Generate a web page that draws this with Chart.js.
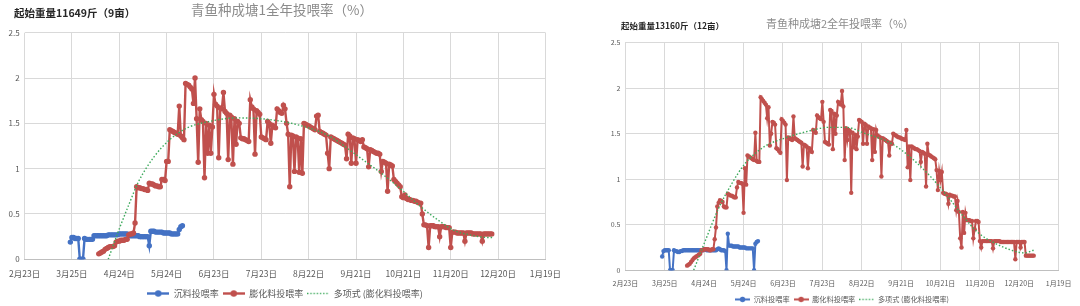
<!DOCTYPE html>
<html>
<head>
<meta charset="utf-8">
<script src="https://cdn.jsdelivr.net/npm/chart.js@4.4.1/dist/chart.umd.min.js"></script>
<style>
html, body { margin: 0; padding: 0; background: #fff; overflow: hidden; width: 1080px; height: 306px; }
canvas { position: absolute; top: 0; }
#pond1 { left: 0; }
#pond2 { left: 590px; }
</style>
</head>
<body>
<canvas id="pond1" width="570" height="308"></canvas>
<canvas id="pond2" width="490" height="313"></canvas>
<script>
// x axis = days after 2月23日, one tick every 30 days
const tickLabels = ['2月23日', '3月25日', '4月24日', '5月24日', '6月23日', '7月23日', '8月22日', '9月21日', '10月21日', '11月20日', '12月20日', '1月19日'];
const seriesNames = ['沉料投喂率', '膨化料投喂率', '多项式 (膨化料投喂率)'];

// pond 1
const pond1Title = '青鱼种成塘1全年投喂率（%）';
const pond1Note = '起始重量11649斤（9亩）';
const pond1SinkStart = 29;
const pond1Sink = [
  0.19, 0.24, 0.24, 0.23, 0.23, 0.23, 0, 0, 0, 0.23,
  0.22, 0.22, 0.22, 0.22, 0.22, 0.26, 0.26, 0.26, 0.26, 0.26,
  0.26, 0.26, 0.26, 0.26, 0.27, 0.27, 0.27, 0.27, 0.27, 0.27,
  0.27, 0.28, 0.28, 0.28, 0.28, 0.28, 0.28, 0.27, 0.26, 0.26,
  0.26, 0.26, 0.26, 0.26, 0.25, 0.25, 0.25, 0.25, 0.25, 0.25,
  0.15, 0.31, 0.31, 0.31, 0.30, 0.30, 0.30, 0.30, 0.30, 0.29,
  0.29, 0.29, 0.29, 0.29, 0.28, 0.28, 0.28, 0.28, 0.28, 0.33,
  0.36, 0.37
];
const pond1PuffStart = 47;
const pond1Puff = [
  0.06, 0.07, 0.08, 0.09, 0.11, 0.12, 0.13, 0.14, 0.14, 0.14,
  0.15, 0.19, 0.20, 0.20, 0.21, 0.21, 0.21, 0.22, 0.22, 0.27,
  0.28, 0.28, 0.29, 0.40, 0.80, 0.79, 0.79, 0.78, 0.78, 0.77,
  0.77, 0.76, 0.84, 0.83, 0.83, 0.82, 0.81, 0.81, 0.80, 0.80,
  0.88, 0.88, 0.87, 1.08, 1.08, 1.43, 1.42, 1.41, 1.40, 1.39,
  1.38, 1.69, 1.36, 1.34, 1.32, 1.94, 1.93, 1.92, 1.90, 1.88,
  1.72, 2.00, 1.55, 1.07, 1.66, 1.54, 1.52, 0.90, 1.50, 1.17,
  1.48, 1.17, 1.46, 1.82, 1.71, 1.69, 1.12, 1.67, 1.66, 1.84,
  1.63, 1.61, 1.10, 1.59, 1.57, 1.05, 1.55, 1.27, 1.52, 1.50,
  1.34, 1.33, 1.33, 1.32, 1.31, 1.30, 1.76, 1.68, 1.66, 1.16,
  1.64, 1.62, 1.60, 1.35, 1.34, 1.33, 1.32, 1.52, 1.50, 1.28,
  1.48, 1.46, 1.45, 1.66, 1.64, 1.62, 1.61, 1.70, 1.66, 1.50,
  1.38, 0.80, 1.37, 1.36, 0.97, 1.35, 1.34, 0.96, 1.33, 0.95,
  1.50, 1.49, 1.48, 1.47, 1.46, 1.45, 1.44, 1.43, 1.58, 1.59,
  1.41, 1.40, 1.39, 1.38, 1.37, 1.17, 1.00, 1.35, 1.34, 1.33,
  1.32, 1.31, 1.30, 1.29, 1.28, 1.27, 1.26, 1.11, 1.38, 1.36,
  1.06, 1.34, 1.33, 1.06, 1.32, 1.31, 1.30, 1.32, 1.24, 1.23,
  1.22, 1.02, 1.21, 1.20, 1.19, 1.18, 1.17, 1.17, 1.16, 0.97,
  1.08, 1.07, 1.06, 0.75, 1.05, 1.04, 1.03, 0.88, 0.86, 0.84,
  0.82, 0.80, 0.69, 0.68, 0.71, 0.67, 0.66, 0.66, 0.65, 0.65,
  0.64, 0.64, 0.63, 0.62, 0.62, 0.50, 0.38, 0.38, 0.37, 0.13,
  0.37, 0.37, 0.37, 0.36, 0.36, 0.36, 0.25, 0.36, 0.36, 0.36,
  0.35, 0.35, 0.35, 0.13, 0.30, 0.30, 0.30, 0.29, 0.29, 0.29,
  0.29, 0.29, 0.20, 0.29, 0.29, 0.29, 0.29, 0.28, 0.28, 0.28,
  0.28, 0.28, 0.28, 0.20, 0.28, 0.28, 0.28, 0.28, 0.28, 0.28
];
const pond1TrendDays = [53, 59, 66, 72, 82, 92, 103, 117, 134, 156, 176, 193, 208, 215, 226, 238, 251, 263, 272, 282, 294, 297];
const pond1Trend = [0, 0.29, 0.60, 0.85, 1.13, 1.32, 1.45, 1.52, 1.56, 1.54, 1.47, 1.36, 1.18, 1.09, 0.95, 0.78, 0.58, 0.42, 0.32, 0.27, 0.24, 0.24];

// pond 2
const pond2Title = '青鱼种成塘2全年投喂率（%）';
const pond2Note = '起始重量13160斤（12亩）';
const pond2SinkStart = 28;
const pond2Sink = [
  0.15, 0.21, 0.22, 0.22, 0.22, 0.22, 0, 0, 0, 0.22,
  0.21, 0.21, 0.20, 0.20, 0.21, 0.21, 0.22, 0.22, 0.22, 0.22,
  0.22, 0.22, 0.22, 0.22, 0.22, 0.22, 0.22, 0.22, 0.22, 0.22,
  0.22, 0.22, 0.23, 0.23, 0.22, 0.22, 0.22, 0.22, 0.22, 0.22,
  0.22, 0.22, 0.23, 0.24, 0.23, 0.22, 0.22, 0.22, 0.21, 0,
  0.40, 0.27, 0.27, 0.27, 0.26, 0.26, 0.26, 0.26, 0.26, 0.25,
  0.25, 0.25, 0.25, 0.25, 0.24, 0.24, 0.24, 0.24, 0.24, 0.24,
  0, 0.29, 0.31, 0.32
];
const pond2PuffStart = 47;
const pond2Puff = [
  0.05, 0.06, 0.07, 0.09, 0.11, 0.13, 0.14, 0.15, 0.16, 0.17,
  0.18, 0.22, 0.22, 0.23, 0.23, 0.23, 0.23, 0.22, 0.22, 0.23,
  0.23, 0.34, 0.47, 0.70, 0.74, 0.77, 0.76, 0.75, 0.70, 0.69,
  0.69, 0.84, 0.83, 0.82, 0.82, 0.81, 0.80, 0.80, 0.91, 0.97,
  0.96, 0.96, 0.95, 0.63, 1.12, 0.94, 1.26, 1.25, 1.24, 1.23,
  1.22, 1.21, 1.51, 1.20, 1.19, 1.19, 1.90, 1.88, 1.86, 1.84,
  1.82, 1.67, 1.79, 1.37, 1.50, 1.63, 1.62, 1.60, 1.34, 1.33,
  1.31, 1.29, 1.66, 1.64, 1.62, 1.60, 0.99, 1.46, 1.45, 1.44,
  1.43, 1.69, 1.45, 1.44, 1.43, 1.42, 1.41, 1.40, 1.14, 1.38,
  1.37, 1.36, 1.12, 1.34, 1.32, 1.30, 1.54, 1.52, 1.51, 1.70,
  1.68, 1.67, 1.66, 1.85, 1.63, 1.41, 1.40, 1.39, 1.38, 1.76,
  1.75, 1.33, 1.72, 1.50, 1.70, 1.85, 1.83, 1.82, 1.97, 1.80,
  1.21, 1.56, 1.43, 1.54, 1.53, 0.85, 1.51, 1.35, 1.49, 1.33,
  1.47, 1.65, 1.64, 1.63, 1.39, 1.61, 1.60, 1.39, 1.58, 1.57,
  1.56, 1.21, 1.55, 1.30, 1.54, 1.48, 1.47, 1.46, 1.03, 1.45,
  1.44, 1.43, 1.42, 1.41, 1.26, 1.40, 1.39, 1.50, 1.49, 1.48,
  1.47, 1.46, 1.46, 1.45, 1.44, 1.44, 1.43, 1.54, 1.13, 1.36,
  0.99, 1.36, 1.35, 1.34, 1.33, 1.33, 1.32, 1.31, 1.19, 1.30,
  1.29, 1.28, 0.92, 1.39, 1.27, 1.26, 1.25, 1.24, 1.23, 1.22,
  1.10, 0.88, 1.09, 0.99, 1.08, 0.85, 0.84, 0.84, 0.83, 0.73,
  0.83, 0.82, 0.82, 0.81, 0.81, 0.66, 0.76, 0.64, 0.35, 0.25,
  0.64, 0.41, 0.63, 0.55, 0.55, 0.55, 0.54, 0.54, 0.35, 0.45,
  0.54, 0.54, 0.53, 0.32, 0.25, 0.32, 0.32, 0.32, 0.32, 0.32,
  0.32, 0.32, 0.32, 0.24, 0.32, 0.32, 0.32, 0.32, 0.32, 0.31,
  0.31, 0.31, 0.31, 0.31, 0.31, 0.31, 0.31, 0.31, 0.31, 0.31,
  0.12, 0.31, 0.31, 0.31, 0.25, 0.31, 0.31, 0.31, 0.16, 0.16,
  0.16, 0.16, 0.16, 0.16, 0.16
];
const pond2TrendDays = [52, 61, 71, 81, 91, 106, 121, 140, 155, 168, 183, 203, 218, 233, 246, 258, 268, 281, 294, 304, 311];
const pond2Trend = [0, 0.33, 0.68, 0.95, 1.17, 1.36, 1.45, 1.53, 1.57, 1.57, 1.50, 1.39, 1.23, 1.02, 0.80, 0.58, 0.42, 0.30, 0.22, 0.19, 0.22];

const blue = '#4472C4';
const red = '#C0504D';
const green = '#3DAA5C';
const font = "'Noto Sans CJK SC', 'Noto Sans', sans-serif";
Chart.defaults.font.family = font;

// little "line with dot" pictures for the legend
function legendMark(color, dotted, w, h, lw, r) {
  const c = document.createElement('canvas');
  c.width = w;
  c.height = h;
  const g = c.getContext('2d');
  g.strokeStyle = color;
  g.fillStyle = color;
  g.lineWidth = lw;
  if (dotted) g.setLineDash([lw * 0.8, lw * 1.2]);
  g.beginPath();
  g.moveTo(0, h / 2);
  g.lineTo(w, h / 2);
  g.stroke();
  if (!dotted) {
    g.beginPath();
    g.arc(w / 2, h / 2, r, 0, Math.PI * 2);
    g.fill();
  }
  return c;
}

// title and the weight note sit on the same line, so they are drawn here
const headPlugin = {
  id: 'head',
  afterDraw(chart, args, o) {
    const ctx = chart.ctx;
    ctx.save();
    ctx.textBaseline = 'middle';
    ctx.font = 'bold ' + o.noteSize + 'px ' + font;
    ctx.fillStyle = '#262626';
    ctx.textAlign = 'left';
    ctx.fillText(o.note, o.noteX, o.noteY);
    ctx.font = o.titleSize + 'px ' + font;
    ctx.fillStyle = '#8C8C8C';
    ctx.textAlign = 'center';
    ctx.fillText(o.title, o.titleX, o.titleY);
    ctx.restore();
  }
};

const toPoints = (start, vals) => vals.map((v, i) => ({x: start + i, y: v}));

function drawPond(id, s) {
  const marks = [
    legendMark(blue, false, s.markW, s.markH, s.lw, s.pr + 0.5),
    legendMark(red, false, s.markW, s.markH, s.lw, s.pr + 0.5),
    legendMark(green, true, s.markW, s.markH, 1.6, 0)
  ];
  const colors = [blue, red, green];
  new Chart(document.getElementById(id), {
    type: 'line',
    data: {
      datasets: [
        {
          label: seriesNames[0],
          data: toPoints(s.sinkStart, s.sink),
          borderColor: blue,
          backgroundColor: blue,
          borderWidth: s.lw,
          pointRadius: s.pr,
          pointBorderWidth: 0,
          order: 2
        },
        {
          label: seriesNames[1],
          data: toPoints(s.puffStart, s.puff),
          borderColor: red,
          backgroundColor: red,
          borderWidth: s.lw,
          pointRadius: s.pr,
          pointBorderWidth: 0,
          order: 1
        },
        {
          label: seriesNames[2],
          data: s.trendDays.map((d, i) => ({x: d, y: s.trend[i]})),
          borderColor: green,
          borderWidth: 1.4,
          borderDash: [1.5, 2],
          pointRadius: 0,
          cubicInterpolationMode: 'monotone',
          order: 0
        }
      ]
    },
    options: {
      responsive: false,
      animation: false,
      devicePixelRatio: 1,
      layout: {padding: s.padding},
      scales: {
        x: {
          type: 'linear',
          min: 0,
          max: 330,
          ticks: {
            stepSize: 30,
            autoSkip: false,
            maxRotation: 0,
            color: '#595959',
            font: {size: s.tickSize},
            padding: s.xPad,
            callback: v => tickLabels[Math.round(v / 30)]
          },
          grid: {color: '#D9D9D9', drawTicks: false},
          border: {color: '#BFBFBF'},
          afterFit: sc => { sc.height = s.xH; }
        },
        y: {
          min: 0,
          max: 2.5,
          ticks: {
            stepSize: 0.5,
            color: '#595959',
            font: {size: s.yTickSize},
            padding: 5,
            callback: v => String(v)
          },
          grid: {color: '#D9D9D9', drawTicks: false},
          border: {display: false},
          afterFit: sc => { sc.width = s.yW; }
        }
      },
      plugins: {
        head: s.head,
        legend: {
          position: 'bottom',
          fullSize: false,
          labels: {
            usePointStyle: true,
            pointStyleWidth: s.markW,
            boxHeight: s.legendSize,
            padding: 4,
            color: '#595959',
            font: {size: s.legendSize},
            generateLabels: () => seriesNames.map((t, i) => ({
              text: t,
              datasetIndex: i,
              pointStyle: marks[i],
              fillStyle: colors[i],
              strokeStyle: colors[i],
              lineWidth: 0,
              hidden: false,
              fontColor: '#595959'
            }))
          }
        },
        tooltip: {enabled: false}
      }
    },
    plugins: [headPlugin]
  });
}

drawPond('pond1', {
  sinkStart: pond1SinkStart, sink: pond1Sink,
  puffStart: pond1PuffStart, puff: pond1Puff,
  trendDays: pond1TrendDays, trend: pond1Trend,
  head: {title: pond1Title, titleX: 282, titleY: 10, titleSize: 13.5,
         note: pond1Note, noteX: 14, noteY: 13, noteSize: 10.5},
  padding: {top: 32.7, left: 0, right: 18, bottom: 0},
  yW: 21, xH: 25.7, xPad: 9,
  tickSize: 8.5, yTickSize: 8,
  legendSize: 9, markW: 22, markH: 9,
  lw: 2.4, pr: 2.7
});

drawPond('pond2', {
  sinkStart: pond2SinkStart, sink: pond2Sink,
  puffStart: pond2PuffStart, puff: pond2Puff,
  trendDays: pond2TrendDays, trend: pond2Trend,
  head: {title: pond2Title, titleX: 250, titleY: 24, titleSize: 11,
         note: pond2Note, noteX: 31, noteY: 26, noteSize: 8.5},
  padding: {top: 42.7, left: 0, right: 16.6, bottom: 0},
  yW: 35.4, xH: 21.6, xPad: 8.5,
  tickSize: 7, yTickSize: 7,
  legendSize: 7.2, markW: 15, markH: 7,
  lw: 2, pr: 2.2
});
</script>
</body>
</html>
